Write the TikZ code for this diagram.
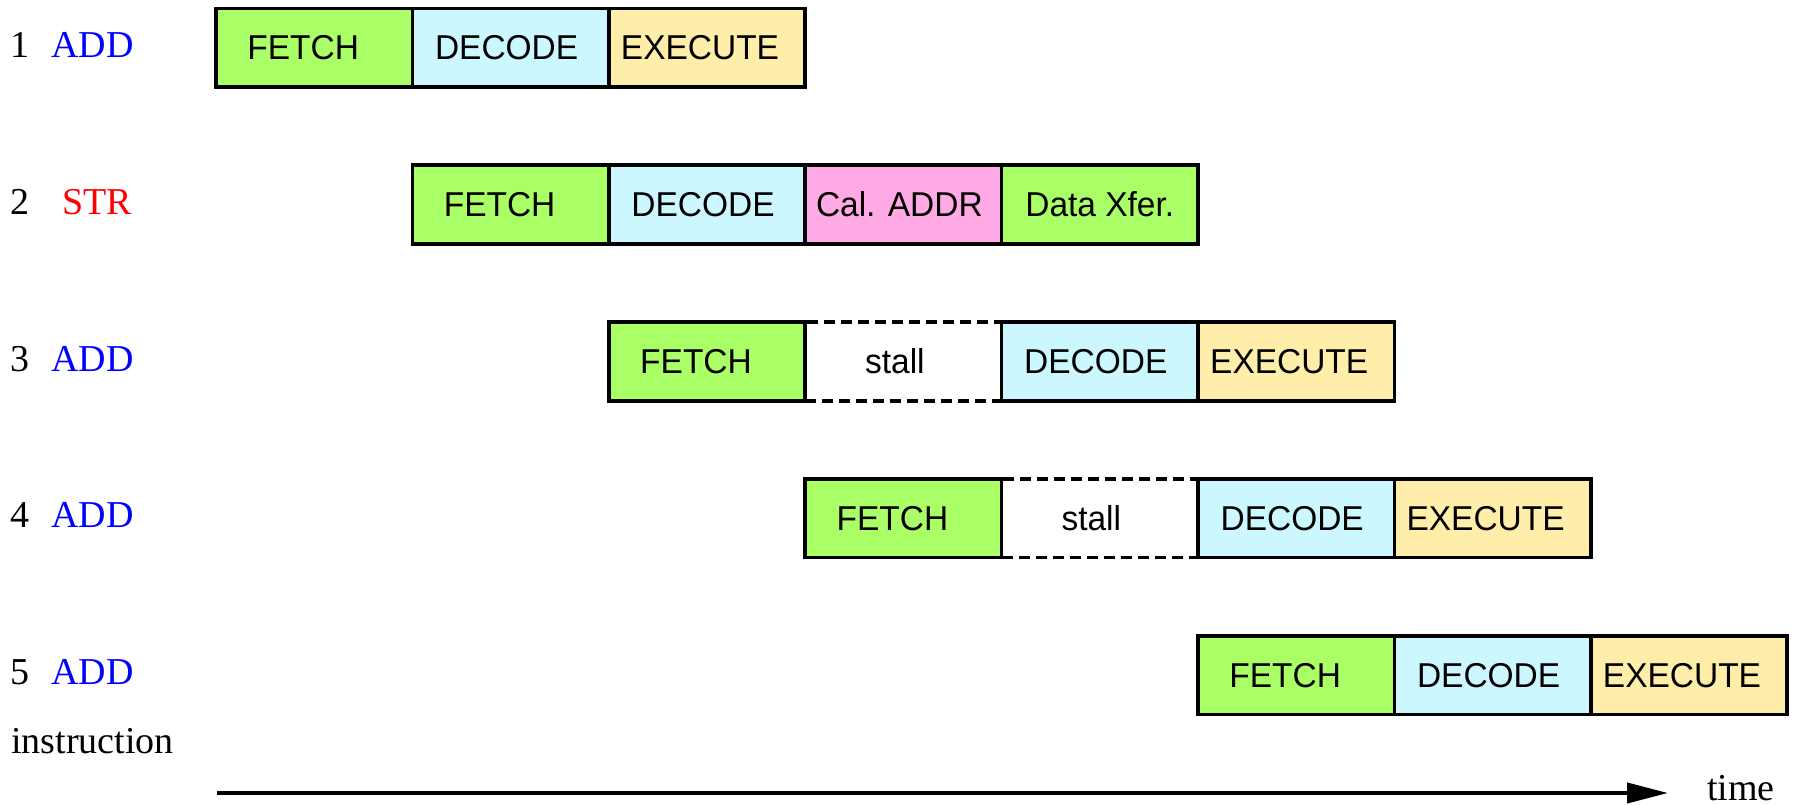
\documentclass[tikz,border=0pt]{standalone}
\usepackage{fontspec}
\setmainfont{Liberation Serif}
\newfontfamily\boxfont[FakeStretch=0.97]{Liberation Sans}
\usetikzlibrary{arrows.meta}
\definecolor{cfetch}{RGB}{170,255,102}
\definecolor{cdecode}{RGB}{204,247,255}
\definecolor{cexec}{RGB}{255,238,170}
\definecolor{caddr}{RGB}{255,170,228}
\definecolor{cadd}{RGB}{0,0,255}
\definecolor{cstr}{RGB}{255,0,0}
\tikzset{
  cell/.style={draw=black, line width=3.5pt, minimum width=196.4pt, minimum height=78.7pt,
    inner sep=0pt, font=\boxfont\fontsize{34.5}{41}\selectfont},
  fetchbox/.style={cell, fill=cfetch},
  decodebox/.style={cell, fill=cdecode},
  execbox/.style={cell, fill=cexec},
  addrbox/.style={cell, fill=caddr},
  stallbox/.style={cell, dash pattern=on 11pt off 6pt},
  lbl/.style={inner sep=0pt, font=\fontsize{38}{44}\selectfont},
}
\begin{document}
\begin{tikzpicture}[x=1pt, y=-1pt]
\useasboundingbox (0,0) rectangle (1793,805);
% row 1
\node[fetchbox] (a1) at (314.2,47.65) {FETCH\kern22pt};
\node[decodebox] (a2) at (510.6,47.65) {DECODE\kern8pt};
\node[execbox] (a3) at (707.0,47.65) {EXECUTE\kern14pt};
% row 2
\node[fetchbox] (b1) at (510.6,204.55) {FETCH\kern22pt};
\node[decodebox] (b2) at (707.0,204.55) {DECODE\kern8pt};
\node[addrbox] (b3) at (903.4,204.55) {Cal. ADDR\kern8pt};
\node[fetchbox] (b4) at (1099.8,204.55) {Data Xfer.};
% row 3
\node[stallbox] (c2) at (903.4,361.45) {stall\kern17pt};
\node[fetchbox] (c1) at (707.0,361.45) {FETCH\kern22pt};
\node[decodebox] (c3) at (1099.8,361.45) {DECODE\kern8pt};
\node[execbox] (c4) at (1296.2,361.45) {EXECUTE\kern14pt};
% row 4
\node[stallbox] (d2) at (1099.8,518.35) {stall\kern17pt};
\node[fetchbox] (d1) at (903.4,518.35) {FETCH\kern22pt};
\node[decodebox] (d3) at (1296.2,518.35) {DECODE\kern8pt};
\node[execbox] (d4) at (1492.6,518.35) {EXECUTE\kern14pt};
% row 5
\node[fetchbox] (e1) at (1296.2,675.25) {FETCH\kern22pt};
\node[decodebox] (e2) at (1492.6,675.25) {DECODE\kern8pt};
\node[execbox] (e3) at (1689.0,675.25) {EXECUTE\kern14pt};
% labels
\node[lbl, anchor=base] (n1) at (20,57.2) {1};
\node[lbl, anchor=base west, text=cadd] (i1) at (51,57.2) {ADD};
\node[lbl, anchor=base] (n2) at (20,214.1) {2};
\node[lbl, anchor=base west, text=cstr] (i2) at (62,214.1) {STR};
\node[lbl, anchor=base] (n3) at (20,371.0) {3};
\node[lbl, anchor=base west, text=cadd] (i3) at (51,371.0) {ADD};
\node[lbl, anchor=base] (n4) at (20,527.9) {4};
\node[lbl, anchor=base west, text=cadd] (i4) at (51,527.9) {ADD};
\node[lbl, anchor=base] (n5) at (20,684.8) {5};
\node[lbl, anchor=base west, text=cadd] (i5) at (51,684.8) {ADD};
\node[lbl, anchor=base west] (instr) at (11,753) {instruction};
% time axis
\coordinate (t0) at (217,793);
\coordinate (t1) at (1668,793);
\draw[line width=4pt, -{Triangle[length=41pt,width=20pt]}] (t0) -- (t1);
\node[lbl, anchor=base west] (time) at (1707,800) {time};
\end{tikzpicture}
\end{document}
